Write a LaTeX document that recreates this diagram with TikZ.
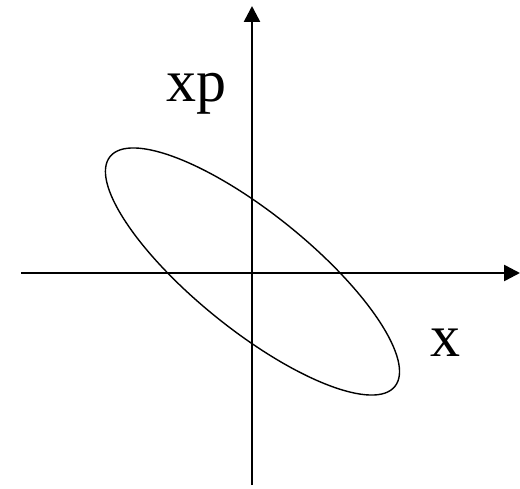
\documentclass[tikz,border=0pt]{standalone}
\usepackage{fontspec}
\setmainfont{Liberation Serif}
\usetikzlibrary{arrows.meta}
\begin{document}
\begin{tikzpicture}[x=1pt,y=1pt,
  axis/.style={line width=2.6pt,-{Triangle[length=16pt,width=16pt]}},
  curve/.style={line width=1.4pt},
  lbl/.style={font=\fontsize{60}{60}\selectfont,inner sep=0pt,anchor=base west}]
\useasboundingbox (0,0) rectangle (520,488);
\coordinate (xl) at (21,215);
\coordinate (xr) at (520,215);
\coordinate (yb) at (252,3);
\coordinate (yt) at (252,482);
\coordinate (c) at (252.5,216.5);
\draw[axis] (xl) -- (xr);
\draw[axis] (yb) -- (yt);
\draw[curve, rotate around={-38.9:(c)}] (c) ellipse [x radius=183, y radius=58.2];
\node[lbl] (xp) at (166,386) {xp};
\node[lbl] (x) at (430,131) {x};
\end{tikzpicture}
\end{document}
